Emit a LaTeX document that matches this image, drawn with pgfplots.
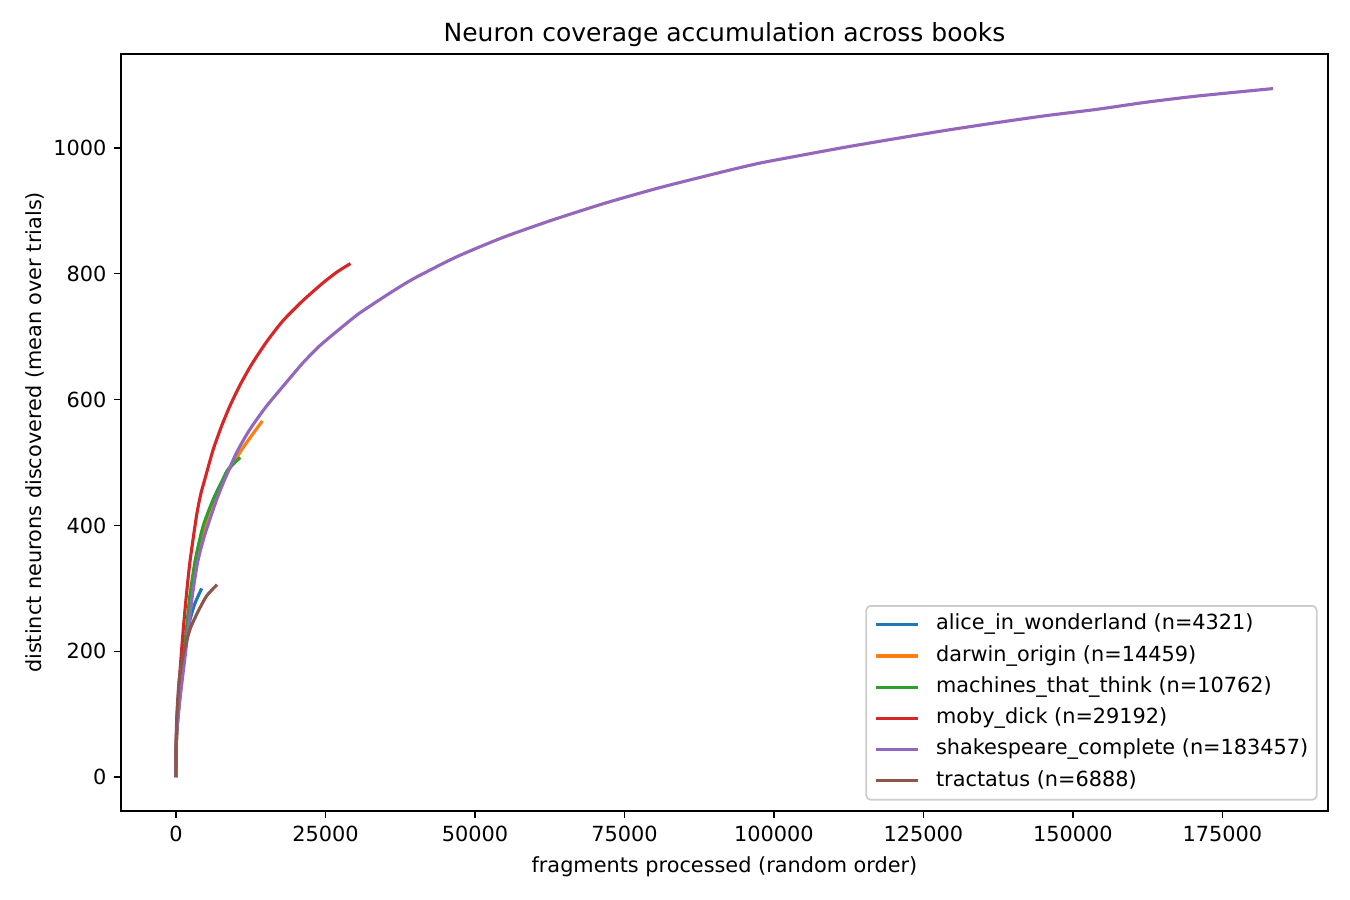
\documentclass[border=0pt]{standalone}
\usepackage{fontspec}
\setmainfont{DejaVu Sans}
\usepackage{pgfplots}
\pgfplotsset{compat=1.18}

\definecolor{c0}{HTML}{1F77B4}
\definecolor{c1}{HTML}{FF7F0E}
\definecolor{c2}{HTML}{2CA02C}
\definecolor{c3}{HTML}{D62728}
\definecolor{c4}{HTML}{9467BD}
\definecolor{c5}{HTML}{8C564B}

\begin{document}
\begin{tikzpicture}
\useasboundingbox (-58.1pt,-42.7pt) rectangle (590pt,389.3pt);
\begin{axis}[
  at={(0,0)}, anchor=south west,
  scale only axis,
  width=579.4pt, height=363.4pt,
  xmin=-9173, xmax=192630,
  ymin=-53.5, ymax=1149,
  font=\fontsize{10}{12}\selectfont,
  /pgf/number format/fixed,
  /pgf/number format/assume math mode=true,
  /pgf/number format/1000 sep={},
  scaled x ticks=false,
  scaled y ticks=false,
  xtick={0,25000,...,175000},
  ytick={0,200,...,1000},
  tick pos=left,
  tick align=outside,
  major tick length=3.5pt,
  tick style={black, line width=0.8pt},
  axis line style={black, line width=0.8pt},
  title={Neuron coverage accumulation across books},
  title style={at={(axis description cs:0.5,1)}, anchor=base,
    font=\fontsize{12}{14.4}\selectfont},
  xlabel={fragments processed (random order)},
  xlabel style={at={(axis description cs:0.5,0)}, anchor=center, yshift=-26.6pt},
  ylabel={distinct neurons discovered (mean over trials)},
  ylabel style={at={(axis description cs:-0.0713,0.5)}, anchor=center},
  every axis plot/.append style={line width=1.5pt, line join=round, smooth, tension=0.4},
  legend cell align=left,
  legend image code/.code={\draw[#1] (0pt,0pt) -- (20pt,0pt);},
  legend style={at={(1,0)}, anchor=south east, xshift=-5pt, yshift=5pt,
    draw=black!20, line width=0.8pt, rounded corners=2pt,
    fill=white, fill opacity=0.8, text opacity=1, draw opacity=1,
    inner xsep=4pt, inner ysep=4pt, row sep=5pt, column sep=8pt,
    nodes={inner sep=0pt, text height=7.5pt, text depth=2.5pt},
    font=\fontsize{10}{12}\selectfont},
]
\addplot[c0] coordinates {
  (0,0) (15,22) (50,45) (150,70) (333,92) (667,128) (1111,171) (1667,214)
  (2389,251) (3222,277) (4321,300)
};
\addlegendentry{alice\_in\_wonderland (n=4321)}

\addplot[c1] coordinates {
  (0,0) (15,22) (50,46) (150,72) (350,98) (650,125) (1280,180) (2000,240)
  (2600,290) (3400,343) (4600,392) (6000,433) (7800,470) (9555,499)
  (11778,531) (14459,566)
};
\addlegendentry{darwin\_origin (n=14459)}

\addplot[c2] coordinates {
  (0,0) (15,23) (50,47) (150,75) (350,102) (600,130) (1167,182) (1833,242)
  (2389,292) (3300,348) (4556,399) (6222,441) (7890,474) (8722,489)
  (10762,508)
};
\addlegendentry{machines\_that\_think (n=10762)}

\addplot[c3] coordinates {
  (0,0) (20,28) (60,55) (150,85) (300,112) (700,170) (1278,240) (1850,298)
  (2389,345) (3444,415) (4167,450) (4833,473) (6222,520) (7611,557)
  (9000,589) (10667,622) (12611,655) (15111,691) (17888,725) (21222,757)
  (24555,785) (27000,803) (29192,816)
};
\addlegendentry{moby\_dick (n=29192)}

\addplot[c4] coordinates {
  (0,0) (15,22) (50,45) (150,70) (350,95) (722,128) (1389,180) (2111,238)
  (2778,290) (3667,343) (4833,385) (6780,440) (8167,473) (10111,515)
  (12333,552) (15111,589) (18444,627) (21222,658) (24000,685) (27888,716)
  (30667,737) (35111,765) (39555,791) (46778,826) (54555,857) (62888,885)
  (71778,912) (80667,936) (90667,960) (97333,975) (104000,987)
  (112000,1001) (120667,1015) (129000,1028) (137333,1040) (145500,1051)
  (154000,1061) (162000,1072) (170667,1082) (183457,1094)
};
\addlegendentry{shakespeare\_complete (n=183457)}

\addplot[c5] coordinates {
  (0,0) (10,30) (40,55) (167,100) (555,155) (1250,195) (2360,235)
  (3750,264) (5140,288) (6888,306)
};
\addlegendentry{tractatus (n=6888)}
\end{axis}
\end{tikzpicture}
\end{document}
